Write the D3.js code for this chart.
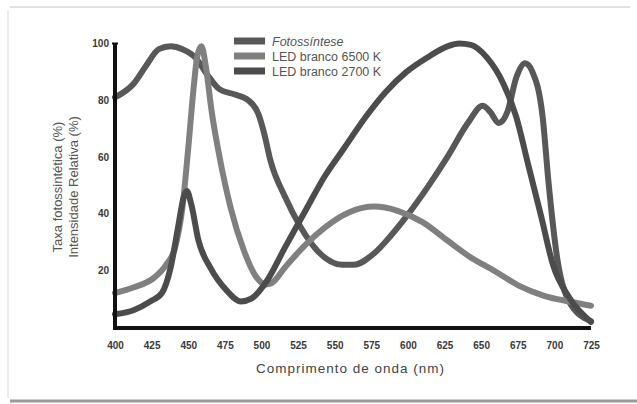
<!DOCTYPE html>
<html>
<head>
<meta charset="utf-8">
<script src="https://cdn.jsdelivr.net/npm/d3@7"></script>
<style>
  body { margin: 0; background: #fff; }
  text { font-family: "Liberation Sans", Arial, sans-serif; }
</style>
</head>
<body>
<svg width="637" height="404"></svg>
<script>
// series data
const fotoNm  = [400, 413, 421, 430, 438, 446, 455, 463, 471, 482, 491, 498, 502, 506, 516, 527, 538, 555, 563, 577, 588, 599, 613, 627, 641, 651, 656, 662, 668, 674, 680, 685, 692, 696, 702, 710, 725];
const fotoVal = [81, 86, 92, 98, 99, 98, 95, 89, 84, 82, 80, 75, 68, 59, 46, 35, 27, 22, 22, 26, 32, 39, 49, 60, 72, 78, 76, 72, 76, 88, 93, 90, 74, 51, 24, 9, 2];

const led6500Nm  = [400, 413, 427, 435, 441, 446, 450, 454, 456, 459, 462, 466, 471, 479, 488, 496, 503, 507, 516, 530, 543, 560, 577, 593, 610, 627, 643, 660, 676, 693, 710, 725];
const led6500Val = [12, 14, 17.5, 22, 28, 42, 63, 86, 95, 99, 92, 76, 61, 42, 27, 18, 15, 15.5, 21, 29, 35, 40.5, 42.5, 41, 37, 30.5, 24.5, 19.5, 14.5, 11, 9, 7.5];

const led2700Nm  = [400, 413, 424, 432, 438, 443, 447, 449, 452, 457, 465, 476, 486, 493, 504, 516, 530, 543, 557, 571, 585, 599, 613, 627, 635, 643, 654, 665, 674, 682, 691, 699, 710, 725];
const led2700Val = [4.5, 6, 9, 12, 21, 35, 46, 48, 43.5, 30.5, 21, 13, 9, 10, 16.5, 28, 41, 53, 63.5, 74, 83, 90, 95, 99, 100, 99.5, 95, 86, 74, 57.5, 39, 22, 10.5, 1.8];

const seriesNames = ["Fotossíntese", "LED branco 6500 K", "LED branco 2700 K"];
const seriesColors = ["#585858", "#808080", "#4c4c4c"];
const xTicks = [400, 425, 450, 475, 500, 525, 550, 575, 600, 625, 650, 675, 700, 725];
const yTicks = [20, 40, 60, 80, 100];

const series = [
    { name: seriesNames[0], nm: fotoNm, val: fotoVal, color: seriesColors[0] },
    { name: seriesNames[1], nm: led6500Nm, val: led6500Val, color: seriesColors[1] },
    { name: seriesNames[2], nm: led2700Nm, val: led2700Val, color: seriesColors[2] }
];

let svg = d3.select("svg");

// faint frame like the scanned page
svg.append("line").attr("x1", 10).attr("x2", 630).attr("y1", 7).attr("y2", 7)
    .attr("stroke", "#e2e2e2").attr("stroke-width", 2);
svg.append("line").attr("x1", 8).attr("x2", 8).attr("y1", 10).attr("y2", 398)
    .attr("stroke", "#ececec").attr("stroke-width", 2);
svg.append("line").attr("x1", 10).attr("x2", 637).attr("y1", 401).attr("y2", 401)
    .attr("stroke", "#9a9a9a").attr("stroke-width", 3);

let x = d3.scaleLinear().domain([400, 725]).range([115, 591]);
let y = d3.scaleLinear().domain([0, 100]).range([327, 43.5]);

// curves
let line = d3.line()
    .x(function (d) { return x(d[0]); })
    .y(function (d) { return y(d[1]); })
    .curve(d3.curveMonotoneX);

let g = svg.append("g");
g.selectAll("path.curve")
    .data(series)
    .join("path")
    .attr("class", "curve")
    .attr("fill", "none")
    .attr("stroke", function (d) { return d.color; })
    .attr("stroke-width", 6)
    .attr("stroke-linecap", "round")
    .attr("stroke-linejoin", "round")
    .attr("d", function (d) {
        return line(d.nm.map(function (n, i) { return [n, d.val[i]]; }));
    });

// axes
let xAxis = svg.append("g")
    .attr("transform", "translate(0," + 328 + ")")
    .call(d3.axisBottom(x).tickValues(xTicks).tickSize(0).tickPadding(14));
let yAxis = svg.append("g")
    .attr("transform", "translate(" + 115 + ",0)")
    .call(d3.axisLeft(y).tickValues(yTicks).tickSize(0).tickPadding(6));

xAxis.select(".domain").attr("stroke", "#111").attr("stroke-width", 4)
    .attr("d", "M" + x(400) + ",0H" + x(725));
yAxis.select(".domain").attr("stroke", "#111").attr("stroke-width", 4)
    .attr("d", "M0," + y(100) + "V" + (y(0) + 3));
yAxis.append("line").attr("x1", -3).attr("x2", 3).attr("y1", y(100)).attr("y2", y(100))
    .attr("stroke", "#111").attr("stroke-width", 2);

svg.selectAll(".tick text")
    .attr("fill", "#3a3a3a")
    .attr("font-size", 10)
    .attr("font-weight", "bold");

// axis titles
svg.append("text")
    .attr("x", 350).attr("y", 373)
    .attr("text-anchor", "middle")
    .attr("font-size", 13.5)
    .attr("textLength", 188)
    .attr("fill", "#444")
    .text("Comprimento de onda (nm)");

let yTitle = svg.append("text")
    .attr("transform", "translate(62,187) rotate(-90)")
    .attr("text-anchor", "middle")
    .attr("font-size", 13)
    .attr("fill", "#555");
yTitle.append("tspan").attr("x", 0).attr("dy", 0).text("Taxa fotossintética (%)");
yTitle.append("tspan").attr("x", 0).attr("dy", 16).text("Intensidade Relativa (%)");

// legend
let legend = svg.append("g").attr("transform", "translate(234,41)");
let item = legend.selectAll("g")
    .data(series)
    .join("g")
    .attr("transform", function (d, i) { return "translate(0," + (i * 15) + ")"; });
item.append("rect")
    .attr("x", 0).attr("y", -3.5)
    .attr("width", 31).attr("height", 7)
    .attr("fill", function (d) { return d.color; });
item.append("text")
    .attr("x", 38).attr("y", 4.5)
    .attr("font-size", 12.5)
    .attr("fill", "#555")
    .attr("font-style", function (d, i) { return i === 0 ? "italic" : "normal"; })
    .text(function (d) { return d.name; });
</script>
</body>
</html>
